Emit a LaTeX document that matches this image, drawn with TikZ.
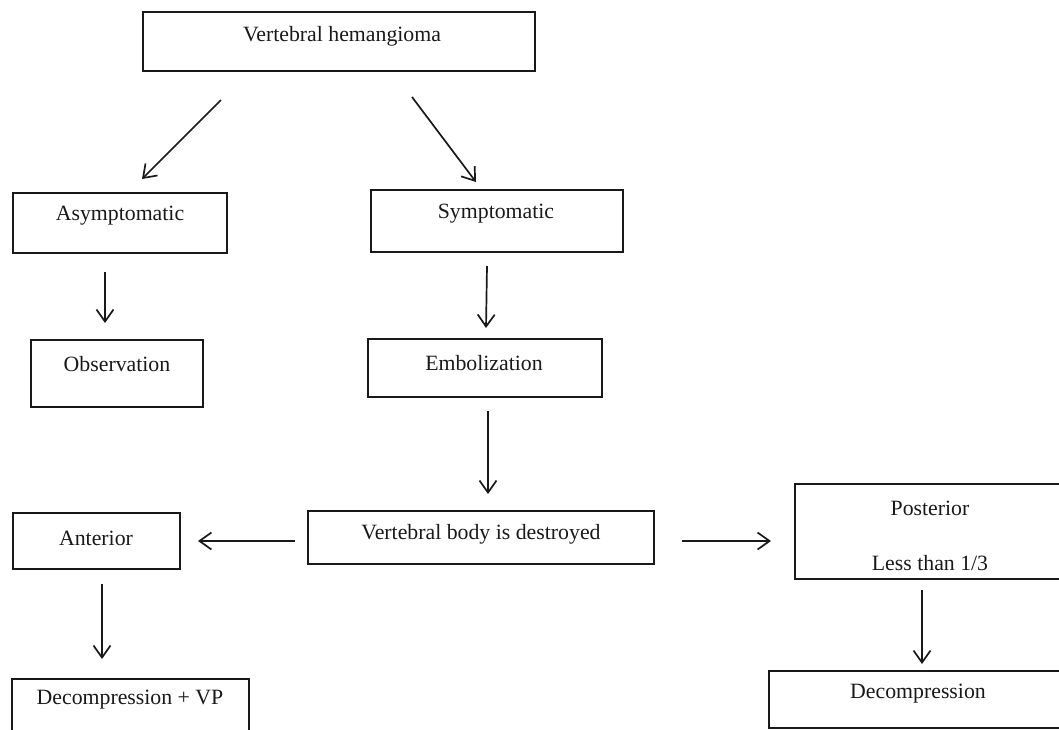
\documentclass[tikz,border=0pt]{standalone}
\usepackage{fontspec}
\setmainfont{Liberation Serif}
\usetikzlibrary{arrows.meta}
\begin{document}
\begin{tikzpicture}[x=1pt,y=-1pt,
  box/.style={draw=black!90, line width=1.7pt, rectangle, inner sep=0pt},
  txt/.style={inner sep=0pt, font=\fontsize{21.8}{26}\selectfont, text=black!90},
  arr/.style={draw=black!90, line width=1.7pt, -{Straight Barb[length=12pt,width=17pt,line width=1.7pt]}}]
\useasboundingbox (0,0) rectangle (1059,729);
\clip (0,0) rectangle (1059,729);
% boxes
\node[box, minimum width=392, minimum height=59] (vh) at (339,41.5) {};
\node[txt] (vht) at (342,36) {Vertebral hemangioma};
\node[box, minimum width=214, minimum height=60] (as) at (120,223) {};
\node[txt] (ast) at (120,216) {Asymptomatic};
\node[box, minimum width=252, minimum height=62] (sy) at (497,221) {};
\node[txt] (syt) at (496,214) {Symptomatic};
\node[box, minimum width=172, minimum height=67] (ob) at (117,373.5) {};
\node[txt] (obt) at (117,364) {Observation};
\node[box, minimum width=234, minimum height=58] (em) at (485,368) {};
\node[txt] (emt) at (484,363) {Embolization};
\node[box, minimum width=346, minimum height=53] (vb) at (481,537.5) {};
\node[txt] (vbt) at (481,534) {Vertebral body is destroyed};
\node[box, minimum width=167, minimum height=56] (an) at (96.5,541) {};
\node[txt] (ant) at (96,538) {Anterior};
\node[box, minimum width=272, minimum height=95] (po) at (931,531.5) {};
\node[txt] (pot) at (930,508) {Posterior};
\node[txt] (pot2) at (930,563) {Less than 1/3};
\node[box, minimum width=237, minimum height=70] (dv) at (130.5,714) {};
\node[txt] (dvt) at (130,700) {Decompression + VP};
\node[box, minimum width=300, minimum height=57] (de) at (919,699.5) {};
\node[txt] (det) at (918,694) {Decompression};
% arrow end points
\coordinate (a1s) at (221,100); \coordinate (a1e) at (142,179);
\coordinate (a2s) at (412,97);  \coordinate (a2e) at (476,182);
\coordinate (a3s) at (105,272); \coordinate (a3e) at (105,323);
\coordinate (a4s) at (487,266); \coordinate (a4e) at (486,328);
\coordinate (a5s) at (488,411); \coordinate (a5e) at (488,494);
\coordinate (a6s) at (295,541); \coordinate (a6e) at (198,541);
\coordinate (a7s) at (682,541); \coordinate (a7e) at (771,541);
\coordinate (a8s) at (102,584); \coordinate (a8e) at (102,659);
\coordinate (a9s) at (922,590); \coordinate (a9e) at (922,664);
% connectors
\draw[arr] (a1s) -- (a1e);
\draw[arr] (a2s) -- (a2e);
\draw[arr] (a3s) -- (a3e);
\draw[arr] (a4s) -- (a4e);
\draw[arr] (a5s) -- (a5e);
\draw[arr] (a6s) -- (a6e);
\draw[arr] (a7s) -- (a7e);
\draw[arr] (a8s) -- (a8e);
\draw[arr] (a9s) -- (a9e);
\end{tikzpicture}
\end{document}
